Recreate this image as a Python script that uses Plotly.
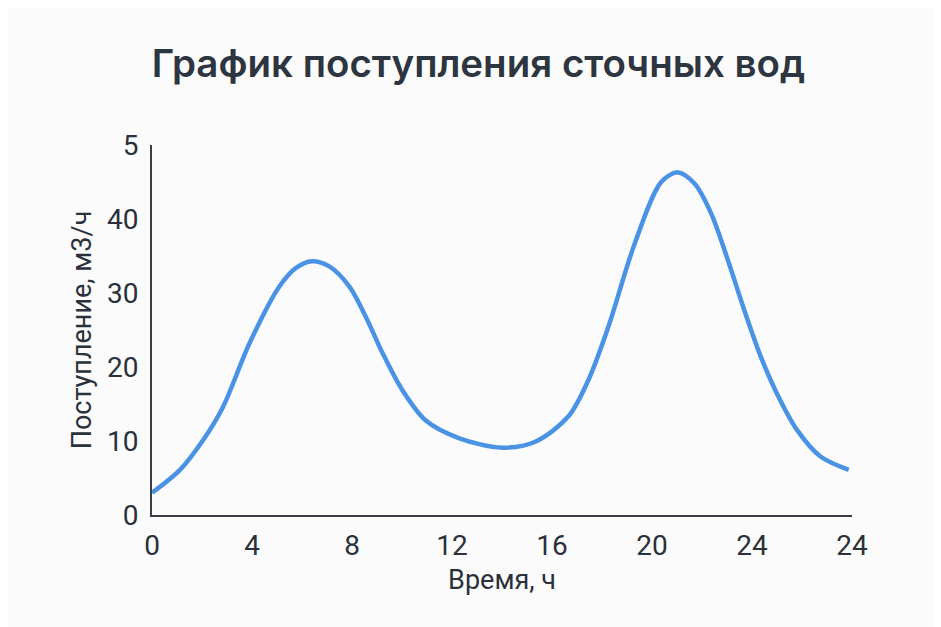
import plotly.graph_objects as go

hours = [0.0, 1.12, 2.04, 2.84, 3.90, 5.10, 5.76, 6.40, 7.09, 7.89, 8.55, 9.22, 10.01,
         10.94, 12.27, 14.0, 15.33, 16.65, 17.45, 18.25, 19.31, 20.37, 21.04,
         21.7, 22.36, 23.03, 23.69, 24.35, 25.0, 25.8, 26.74, 27.87]
inflow = [3.0, 6.1, 10.1, 14.6, 23.2, 30.9, 33.4, 34.3, 33.6, 30.9, 26.8, 21.9, 16.9,
          12.8, 10.4, 9.1, 9.9, 13.3, 18.2, 25.4, 36.7, 45.0, 46.3,
          44.8, 40.8, 34.5, 27.7, 21.4, 16.4, 11.5, 7.9, 6.1]

x_tick_vals = [0, 4, 8, 12, 16, 20, 24, 28]
x_tick_text = ["0", "4", "8", "12", "16", "20", "24", "24"]
y_tick_vals = [0, 10, 20, 30, 40, 50]
y_tick_text = ["0", "10", "20", "30", "40", "5"]

fig = go.Figure()
fig.add_trace(go.Scatter(
    x=hours, y=inflow, mode="lines",
    line=dict(color="#4a93e4", width=4.5, shape="spline", smoothing=0.9),
    showlegend=False, hoverinfo="skip",
))

ink = "#2b313a"
fig.update_layout(
    width=941, height=627,
    paper_bgcolor="#fbfbfb", plot_bgcolor="#fbfbfb",
    margin=dict(l=144, r=97, t=137, b=120),
    font=dict(family="Roboto, sans-serif", color=ink),
    title=dict(text="График поступления сточных вод", x=0.5, xanchor="center",
               y=0.912, yanchor="middle",
               font=dict(size=38.5, color="#2d3640", family="Inter, sans-serif", weight=600)),
    xaxis=dict(range=[0, 28], tickvals=x_tick_vals, ticktext=x_tick_text,
               showgrid=False, zeroline=False, showline=True, linecolor="#3a3f47", linewidth=2,
               ticks="", tickfont=dict(size=28, color=ink), ticklabelstandoff=4,
               title=dict(text="Время, ч", font=dict(size=27, color=ink), standoff=10)),
    yaxis=dict(range=[0, 50], tickvals=y_tick_vals, ticktext=y_tick_text,
               showgrid=False, zeroline=False, showline=True, linecolor="#3a3f47", linewidth=2,
               ticks="", tickfont=dict(size=28, color=ink), ticklabelstandoff=6,
               title=dict(text="Поступление, м3/ч", font=dict(size=27, color=ink), standoff=7)),
)

fig.write_html("out.html")
